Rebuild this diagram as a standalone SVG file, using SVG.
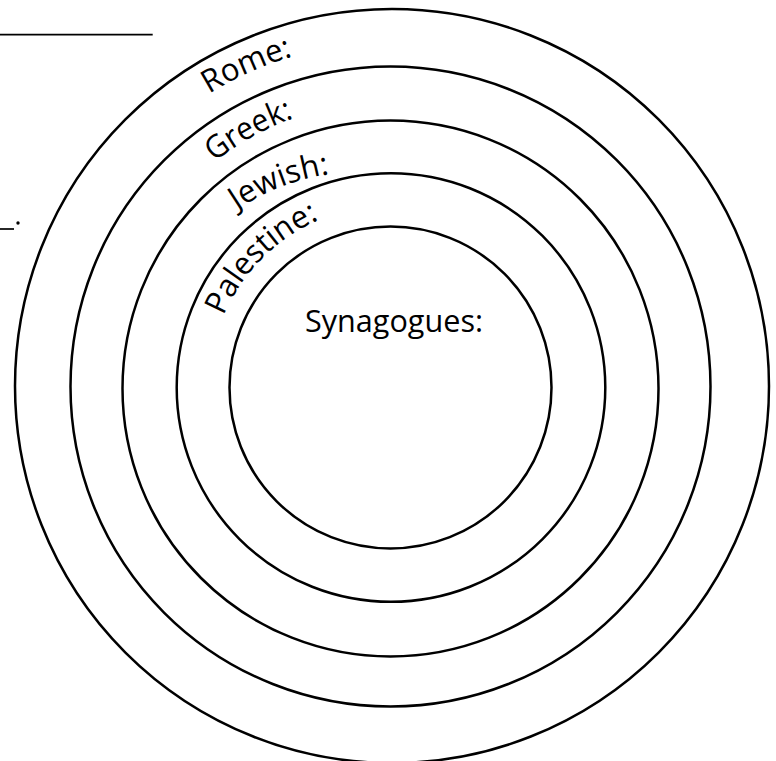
<svg xmlns="http://www.w3.org/2000/svg" xmlns:xlink="http://www.w3.org/1999/xlink" width="776" height="761" viewBox="0 0 776 761">
<style>
.ring{fill:none;stroke:#000;stroke-width:2.5}
.lbl{font-family:"Open Sans","Noto Sans","Liberation Sans",sans-serif;font-size:31.5px;fill:#000}
.rule{stroke:#000;stroke-width:1.7}
</style>
<defs>
<path id="pRome" d="M209.2,93.8 A345,345 0 0 1 563.5,88.2"/>
<path id="pGreek" d="M214.5,161.9 A286,286 0 0 1 534,139.3"/>
<path id="pJewish" d="M237,210 A225,225 0 0 1 439.6,185.2"/>
<path id="pPal" d="M223.5,315.9 A182,182 0 0 1 482,229.4"/>
</defs>
<rect width="776" height="761" fill="#fff"/>
<g id="blanks">
<line class="rule" x1="0" y1="34.7" x2="152.7" y2="34.7"/>
<line class="rule" x1="0" y1="229" x2="14" y2="229"/>
<circle cx="18" cy="223" r="1.7" fill="#000"/>
</g>
<g id="ring-rome"><circle class="ring" cx="392" cy="386" r="377"/><text class="lbl"><textPath xlink:href="#pRome" textLength="92" lengthAdjust="spacingAndGlyphs">Rome:</textPath></text></g>
<g id="ring-greek"><circle class="ring" cx="390.5" cy="386.5" r="320"/><text class="lbl"><textPath xlink:href="#pGreek" textLength="91" lengthAdjust="spacingAndGlyphs">Greek:</textPath></text></g>
<g id="ring-jewish"><circle class="ring" cx="390.5" cy="388.5" r="268"/><text class="lbl"><textPath xlink:href="#pJewish" textLength="100" lengthAdjust="spacingAndGlyphs">Jewish:</textPath></text></g>
<g id="ring-palestine"><circle class="ring" cx="391" cy="387.5" r="214.3"/><text class="lbl"><textPath xlink:href="#pPal" textLength="139" lengthAdjust="spacingAndGlyphs">Palestine:</textPath></text></g>
<g id="ring-synagogues"><circle class="ring" cx="390.5" cy="387.5" r="161"/><text class="lbl" x="305" y="332" textLength="178" lengthAdjust="spacingAndGlyphs">Synagogues:</text></g>
<g id="connectors"/>
</svg>
